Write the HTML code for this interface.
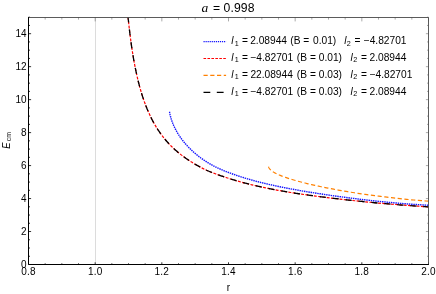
<!DOCTYPE html>
<html><head><meta charset="utf-8"><title>plot</title>
<style>
html,body{margin:0;padding:0;background:#fff;}
body{width:436px;height:294px;overflow:hidden;font-family:"Liberation Sans",sans-serif;}
svg{display:block;}
text{font-family:"Liberation Sans",sans-serif;fill:#000;}
.t{font-size:10px;}
.i{font-style:italic;}
.s{font-size:7px;}
</style></head><body>
<svg width="436" height="294" viewBox="0 0 436 294">
<rect width="436" height="294" fill="#fff"/>
<line x1="95.5" y1="17.2" x2="95.5" y2="264.5" stroke="#dcdcdc" stroke-width="1"/>
<clipPath id="c"><rect x="28.5" y="17.2" width="400.0" height="247.3"/></clipPath>
<g clip-path="url(#c)" fill="none">
<path d="M169.55,111.64 L169.55,111.65 L169.55,111.68 L169.56,111.74 L169.58,111.83 L169.60,111.97 L169.62,112.15 L169.66,112.37 L169.70,112.63 L169.75,112.93 L169.81,113.27 L169.88,113.64 L169.96,114.05 L170.04,114.48 L170.15,114.95 L170.26,115.44 L170.38,115.95 L170.52,116.49 L170.67,117.05 L170.83,117.63 L171.00,118.24 L171.19,118.86 L171.39,119.50 L171.61,120.16 L171.84,120.83 L172.09,121.52 L172.35,122.22 L172.63,122.94 L172.92,123.68 L173.23,124.42 L173.55,125.18 L173.90,125.95 L174.26,126.73 L174.63,127.52 L175.03,128.33 L175.44,129.14 L175.87,129.96 L176.31,130.78 L176.78,131.62 L177.27,132.46 L177.77,133.31 L178.29,134.16 L178.84,135.02 L179.40,135.88 L179.98,136.75 L180.58,137.62 L181.21,138.50 L181.85,139.37 L182.52,140.25 L183.20,141.13 L183.91,142.01 L184.64,142.90 L185.39,143.78 L186.16,144.66 L186.96,145.54 L187.77,146.43 L188.61,147.31 L189.48,148.19 L190.36,149.06 L191.27,149.94 L192.20,150.81 L193.16,151.68 L194.14,152.55 L195.14,153.42 L196.17,154.28 L197.22,155.14 L198.30,156.00 L199.40,156.85 L200.52,157.70 L201.68,158.54 L202.85,159.38 L204.05,160.21 L205.28,161.03 L206.54,161.84 L207.82,162.64 L209.12,163.43 L210.45,164.21 L211.81,164.97 L213.20,165.72 L214.61,166.45 L216.05,167.17 L217.52,167.88 L219.01,168.57 L220.53,169.24 L222.08,169.91 L223.66,170.57 L225.26,171.22 L226.90,171.86 L228.56,172.50 L230.25,173.13 L231.97,173.76 L233.72,174.39 L235.50,175.01 L237.30,175.63 L239.14,176.24 L241.00,176.85 L242.90,177.45 L244.83,178.05 L246.78,178.64 L248.77,179.22 L250.78,179.79 L252.83,180.36 L254.90,180.93 L257.01,181.48 L259.15,182.03 L261.32,182.58 L263.52,183.12 L265.75,183.65 L268.02,184.18 L270.31,184.70 L272.64,185.21 L275.00,185.72 L277.39,186.23 L279.81,186.73 L282.27,187.23 L284.75,187.72 L287.27,188.21 L289.83,188.70 L292.41,189.18 L295.03,189.66 L297.69,190.13 L300.37,190.60 L303.09,191.07 L305.85,191.53 L308.63,192.00 L311.46,192.45 L314.31,192.91 L317.20,193.36 L320.12,193.81 L323.08,194.26 L326.07,194.71 L329.10,195.15 L332.16,195.59 L335.26,196.02 L338.39,196.46 L341.56,196.89 L344.76,197.31 L348.00,197.74 L351.28,198.16 L354.59,198.57 L357.93,198.98 L361.32,199.39 L364.73,199.79 L368.19,200.19 L371.68,200.58 L375.21,200.96 L378.77,201.34 L382.37,201.71 L386.01,202.07 L389.68,202.42 L393.40,202.76 L397.15,203.09 L400.93,203.41 L404.76,203.72 L408.62,204.02 L412.52,204.30 L416.46,204.56 L420.43,204.81 L424.45,205.04 L428.50,205.25" stroke="#1414ff" stroke-width="1.4" stroke-dasharray="1.45 0.8"/>
<path d="M126.50,-0.01 L126.50,-0.01 L126.50,0.02 L126.51,0.09 L126.52,0.20 L126.53,0.35 L126.55,0.56 L126.57,0.83 L126.60,1.17 L126.63,1.57 L126.67,2.04 L126.72,2.58 L126.77,3.20 L126.83,3.90 L126.90,4.67 L126.97,5.53 L127.05,6.47 L127.14,7.48 L127.24,8.58 L127.35,9.76 L127.47,11.01 L127.59,12.35 L127.73,13.76 L127.87,15.24 L128.03,16.79 L128.19,18.42 L128.36,20.11 L128.55,21.86 L128.74,23.68 L128.95,25.55 L129.16,27.48 L129.39,29.45 L129.63,31.47 L129.88,33.54 L130.14,35.64 L130.42,37.78 L130.70,39.94 L131.00,42.14 L131.31,44.36 L131.63,46.60 L131.97,48.86 L132.32,51.13 L132.68,53.41 L133.05,55.70 L133.44,57.99 L133.84,60.29 L134.26,62.58 L134.69,64.87 L135.13,67.15 L135.59,69.42 L136.06,71.68 L136.54,73.93 L137.04,76.17 L137.56,78.39 L138.08,80.59 L138.63,82.77 L139.19,84.93 L139.76,87.07 L140.35,89.19 L140.95,91.28 L141.57,93.35 L142.21,95.39 L142.86,97.40 L143.53,99.39 L144.21,101.36 L144.91,103.29 L145.63,105.20 L146.36,107.08 L147.11,108.93 L147.88,110.76 L148.66,112.55 L149.46,114.32 L150.28,116.06 L151.11,117.77 L151.97,119.46 L152.83,121.11 L153.72,122.74 L154.63,124.34 L155.55,125.92 L156.49,127.46 L157.45,128.98 L158.42,130.48 L159.42,131.95 L160.43,133.39 L161.46,134.81 L162.51,136.20 L163.58,137.57 L164.67,138.91 L165.77,140.23 L166.90,141.53 L168.04,142.80 L169.20,144.05 L170.39,145.28 L171.59,146.48 L172.81,147.67 L174.05,148.83 L175.31,149.98 L176.60,151.10 L177.90,152.20 L179.22,153.29 L180.56,154.35 L181.92,155.40 L183.30,156.43 L184.71,157.45 L186.13,158.45 L187.57,159.43 L189.04,160.40 L190.52,161.37 L192.03,162.32 L193.56,163.26 L195.11,164.19 L196.67,165.11 L198.27,166.01 L199.88,166.90 L201.51,167.78 L203.17,168.62 L204.85,169.45 L206.55,170.24 L208.27,171.00 L210.01,171.74 L211.78,172.45 L213.56,173.14 L215.37,173.81 L217.21,174.48 L219.06,175.14 L220.94,175.79 L222.84,176.44 L224.76,177.09 L226.71,177.73 L228.68,178.37 L230.67,179.00 L232.68,179.62 L234.72,180.24 L236.78,180.84 L238.87,181.44 L240.97,182.03 L243.11,182.61 L245.26,183.18 L247.44,183.74 L249.64,184.29 L251.87,184.83 L254.12,185.37 L256.40,185.90 L258.69,186.41 L261.02,186.93 L263.37,187.43 L265.74,187.93 L268.13,188.41 L270.56,188.90 L273.00,189.37 L275.47,189.84 L277.97,190.30 L280.49,190.75 L283.03,191.20 L285.60,191.64 L288.20,192.08 L290.82,192.50 L293.46,192.93 L296.14,193.34 L298.83,193.76 L301.55,194.16 L304.30,194.56 L307.08,194.96 L309.88,195.35 L312.70,195.73 L315.55,196.11 L318.43,196.49 L321.33,196.86 L324.26,197.23 L327.22,197.60 L330.20,197.96 L333.21,198.32 L336.25,198.68 L339.31,199.03 L342.40,199.38 L345.51,199.73 L348.65,200.08 L351.82,200.42 L355.02,200.76 L358.24,201.10 L361.49,201.44 L364.77,201.77 L368.08,202.10 L371.41,202.42 L374.77,202.74 L378.15,203.05 L381.57,203.35 L385.01,203.65 L388.48,203.94 L391.98,204.23 L395.50,204.51 L399.06,204.79 L402.64,205.06 L406.25,205.33 L409.89,205.59 L413.55,205.85 L417.25,206.11 L420.97,206.36 L424.72,206.61 L428.50,206.86" stroke="#f00" stroke-width="1.2" stroke-dasharray="2.9 1.4"/>
<path d="M268.50,166.65 L268.50,166.65 L268.50,166.66 L268.51,166.68 L268.52,166.71 L268.53,166.75 L268.54,166.80 L268.57,166.86 L268.59,166.94 L268.62,167.02 L268.66,167.12 L268.70,167.23 L268.75,167.34 L268.81,167.46 L268.87,167.59 L268.94,167.73 L269.01,167.87 L269.10,168.01 L269.19,168.17 L269.29,168.32 L269.40,168.48 L269.51,168.64 L269.64,168.80 L269.77,168.97 L269.92,169.14 L270.07,169.31 L270.23,169.49 L270.40,169.66 L270.58,169.84 L270.77,170.02 L270.97,170.20 L271.19,170.39 L271.41,170.57 L271.64,170.76 L271.88,170.95 L272.14,171.14 L272.40,171.33 L272.68,171.52 L272.97,171.72 L273.27,171.91 L273.58,172.11 L273.90,172.31 L274.24,172.51 L274.59,172.71 L274.95,172.91 L275.32,173.11 L275.70,173.32 L276.10,173.52 L276.51,173.73 L276.94,173.93 L277.37,174.14 L277.82,174.35 L278.29,174.57 L278.76,174.78 L279.26,174.99 L279.76,175.21 L280.28,175.42 L280.81,175.64 L281.36,175.86 L281.92,176.08 L282.50,176.30 L283.09,176.52 L283.69,176.75 L284.31,176.97 L284.95,177.20 L285.60,177.43 L286.26,177.66 L286.94,177.89 L287.64,178.12 L288.35,178.35 L289.08,178.59 L289.82,178.82 L290.58,179.06 L291.35,179.30 L292.14,179.54 L292.95,179.78 L293.77,180.02 L294.61,180.26 L295.47,180.51 L296.34,180.75 L297.23,181.00 L298.14,181.25 L299.06,181.50 L300.00,181.75 L300.96,182.00 L301.93,182.26 L302.92,182.51 L303.93,182.77 L304.96,183.03 L306.01,183.29 L307.07,183.55 L308.15,183.81 L309.25,184.07 L310.36,184.33 L311.50,184.60 L312.65,184.86 L313.82,185.13 L315.01,185.39 L316.22,185.66 L317.45,185.93 L318.69,186.20 L319.96,186.47 L321.24,186.74 L322.54,187.02 L323.86,187.29 L325.20,187.56 L326.56,187.84 L327.94,188.11 L329.34,188.38 L330.76,188.66 L332.20,188.94 L333.65,189.21 L335.13,189.49 L336.63,189.76 L338.14,190.04 L339.68,190.31 L341.24,190.59 L342.82,190.87 L344.42,191.14 L346.03,191.42 L347.67,191.69 L349.33,191.96 L351.01,192.24 L352.72,192.51 L354.44,192.78 L356.18,193.05 L357.94,193.32 L359.73,193.59 L361.54,193.85 L363.36,194.12 L365.21,194.38 L367.08,194.64 L368.98,194.90 L370.89,195.16 L372.83,195.41 L374.78,195.67 L376.76,195.92 L378.76,196.16 L380.79,196.41 L382.83,196.65 L384.90,196.89 L386.99,197.12 L389.10,197.36 L391.23,197.60 L393.39,197.86 L395.57,198.12 L397.77,198.37 L400.00,198.62 L402.25,198.86 L404.52,199.10 L406.81,199.33 L409.13,199.56 L411.47,199.78 L413.83,200.00 L416.22,200.22 L418.63,200.42 L421.06,200.63 L423.52,200.82 L426.00,201.01 L428.50,201.19" stroke="#ff8000" stroke-width="1.2" stroke-dasharray="4.2 2.55"/>
<path d="M126.50,-0.01 L126.50,-0.01 L126.50,0.02 L126.51,0.09 L126.52,0.20 L126.53,0.35 L126.55,0.56 L126.57,0.83 L126.60,1.17 L126.63,1.57 L126.67,2.04 L126.72,2.58 L126.77,3.20 L126.83,3.90 L126.90,4.67 L126.97,5.53 L127.05,6.47 L127.14,7.48 L127.24,8.58 L127.35,9.76 L127.47,11.01 L127.59,12.35 L127.73,13.76 L127.87,15.24 L128.03,16.79 L128.19,18.42 L128.36,20.11 L128.55,21.86 L128.74,23.68 L128.95,25.55 L129.16,27.48 L129.39,29.45 L129.63,31.47 L129.88,33.54 L130.14,35.64 L130.42,37.78 L130.70,39.94 L131.00,42.14 L131.31,44.36 L131.63,46.60 L131.97,48.86 L132.32,51.13 L132.68,53.41 L133.05,55.70 L133.44,57.99 L133.84,60.29 L134.26,62.58 L134.69,64.87 L135.13,67.15 L135.59,69.42 L136.06,71.68 L136.54,73.93 L137.04,76.17 L137.56,78.39 L138.08,80.59 L138.63,82.77 L139.19,84.93 L139.76,87.07 L140.35,89.19 L140.95,91.28 L141.57,93.35 L142.21,95.39 L142.86,97.40 L143.53,99.39 L144.21,101.36 L144.91,103.29 L145.63,105.20 L146.36,107.08 L147.11,108.93 L147.88,110.76 L148.66,112.55 L149.46,114.32 L150.28,116.06 L151.11,117.77 L151.97,119.46 L152.83,121.11 L153.72,122.74 L154.63,124.34 L155.55,125.92 L156.49,127.46 L157.45,128.98 L158.42,130.48 L159.42,131.95 L160.43,133.39 L161.46,134.81 L162.51,136.20 L163.58,137.57 L164.67,138.91 L165.77,140.23 L166.90,141.53 L168.04,142.80 L169.20,144.05 L170.39,145.28 L171.59,146.48 L172.81,147.67 L174.05,148.83 L175.31,149.98 L176.60,151.10 L177.90,152.20 L179.22,153.29 L180.56,154.35 L181.92,155.40 L183.30,156.43 L184.71,157.45 L186.13,158.45 L187.57,159.43 L189.04,160.40 L190.52,161.37 L192.03,162.32 L193.56,163.26 L195.11,164.19 L196.67,165.11 L198.27,166.01 L199.88,166.90 L201.51,167.78 L203.17,168.62 L204.85,169.45 L206.55,170.24 L208.27,171.00 L210.01,171.74 L211.78,172.45 L213.56,173.14 L215.37,173.81 L217.21,174.48 L219.06,175.14 L220.94,175.79 L222.84,176.44 L224.76,177.09 L226.71,177.73 L228.68,178.37 L230.67,179.00 L232.68,179.62 L234.72,180.24 L236.78,180.84 L238.87,181.44 L240.97,182.03 L243.11,182.61 L245.26,183.18 L247.44,183.74 L249.64,184.29 L251.87,184.83 L254.12,185.37 L256.40,185.90 L258.69,186.41 L261.02,186.93 L263.37,187.43 L265.74,187.93 L268.13,188.41 L270.56,188.90 L273.00,189.37 L275.47,189.84 L277.97,190.30 L280.49,190.75 L283.03,191.20 L285.60,191.64 L288.20,192.08 L290.82,192.50 L293.46,192.93 L296.14,193.34 L298.83,193.76 L301.55,194.16 L304.30,194.56 L307.08,194.96 L309.88,195.35 L312.70,195.73 L315.55,196.11 L318.43,196.49 L321.33,196.86 L324.26,197.23 L327.22,197.60 L330.20,197.96 L333.21,198.32 L336.25,198.68 L339.31,199.03 L342.40,199.38 L345.51,199.73 L348.65,200.08 L351.82,200.42 L355.02,200.76 L358.24,201.10 L361.49,201.44 L364.77,201.77 L368.08,202.10 L371.41,202.42 L374.77,202.74 L378.15,203.05 L381.57,203.35 L385.01,203.65 L388.48,203.94 L391.98,204.23 L395.50,204.51 L399.06,204.79 L402.64,205.06 L406.25,205.33 L409.89,205.59 L413.55,205.85 L417.25,206.11 L420.97,206.36 L424.72,206.61 L428.50,206.86" stroke="#000" stroke-width="1.3" stroke-dasharray="6.2 6.8" stroke-dashoffset="9.54"/>
</g>
<path d="M28.50,264.5v-2.2M45.17,264.5v-1.2M61.83,264.5v-1.2M78.50,264.5v-1.2M95.17,264.5v-2.2M111.83,264.5v-1.2M128.50,264.5v-1.2M145.17,264.5v-1.2M161.83,264.5v-2.2M178.50,264.5v-1.2M195.17,264.5v-1.2M211.83,264.5v-1.2M228.50,264.5v-2.2M245.17,264.5v-1.2M261.83,264.5v-1.2M278.50,264.5v-1.2M295.17,264.5v-2.2M311.83,264.5v-1.2M328.50,264.5v-1.2M345.17,264.5v-1.2M361.83,264.5v-2.2M378.50,264.5v-1.2M395.17,264.5v-1.2M411.83,264.5v-1.2M428.50,264.5v-2.2M28.5,264.50h2.6M28.5,256.26h1.5M28.5,248.01h1.5M28.5,239.77h1.5M28.5,231.53h2.6M28.5,223.28h1.5M28.5,215.04h1.5M28.5,206.80h1.5M28.5,198.55h2.6M28.5,190.31h1.5M28.5,182.07h1.5M28.5,173.82h1.5M28.5,165.58h2.6M28.5,157.34h1.5M28.5,149.09h1.5M28.5,140.85h1.5M28.5,132.61h2.6M28.5,124.36h1.5M28.5,116.12h1.5M28.5,107.88h1.5M28.5,99.63h2.6M28.5,91.39h1.5M28.5,83.15h1.5M28.5,74.90h1.5M28.5,66.66h2.6M28.5,58.42h1.5M28.5,50.17h1.5M28.5,41.93h1.5M28.5,33.69h2.6M28.5,25.44h1.5M28.5,17.20h1.5" stroke="#000" stroke-width="0.8" fill="none"/>
<path d="M28.50,17.2v4.2M45.17,17.2v2.4M61.83,17.2v2.4M78.50,17.2v2.4M95.17,17.2v4.2M111.83,17.2v2.4M128.50,17.2v2.4M145.17,17.2v2.4M161.83,17.2v4.2M178.50,17.2v2.4M195.17,17.2v2.4M211.83,17.2v2.4M228.50,17.2v4.2M245.17,17.2v2.4M261.83,17.2v2.4M278.50,17.2v2.4M295.17,17.2v4.2M311.83,17.2v2.4M328.50,17.2v2.4M345.17,17.2v2.4M361.83,17.2v4.2M378.50,17.2v2.4M395.17,17.2v2.4M411.83,17.2v2.4M428.50,17.2v4.2M428.5,264.50h-2.6M428.5,256.26h-1.5M428.5,248.01h-1.5M428.5,239.77h-1.5M428.5,231.53h-2.6M428.5,223.28h-1.5M428.5,215.04h-1.5M428.5,206.80h-1.5M428.5,198.55h-2.6M428.5,190.31h-1.5M428.5,182.07h-1.5M428.5,173.82h-1.5M428.5,165.58h-2.6M428.5,157.34h-1.5M428.5,149.09h-1.5M428.5,140.85h-1.5M428.5,132.61h-2.6M428.5,124.36h-1.5M428.5,116.12h-1.5M428.5,107.88h-1.5M428.5,99.63h-2.6M428.5,91.39h-1.5M428.5,83.15h-1.5M428.5,74.90h-1.5M428.5,66.66h-2.6M428.5,58.42h-1.5M428.5,50.17h-1.5M428.5,41.93h-1.5M428.5,33.69h-2.6M428.5,25.44h-1.5M428.5,17.20h-1.5" stroke="#444" stroke-width="0.45" fill="none"/>
<path d="M28.5,17.5H428.5V264.5" fill="none" stroke="#484848" stroke-width="0.9"/>
<path d="M28.5,17.1V264.5H428.9" fill="none" stroke="#000" stroke-width="1"/>
<line x1="203.5" y1="41.5" x2="226.1" y2="41.5" stroke="#1414ff" stroke-width="1.25" stroke-dasharray="1.2 0.85"/>
<line x1="203.5" y1="58.5" x2="226.1" y2="58.5" stroke="#f00" stroke-width="1.15" stroke-dasharray="2.6 1.35"/>
<line x1="203.5" y1="75.4" x2="226.1" y2="75.4" stroke="#ff8000" stroke-width="1.2" stroke-dasharray="4.2 2.55"/>
<line x1="203.5" y1="92.45" x2="226.1" y2="92.45" stroke="#000" stroke-width="1.3" stroke-dasharray="6.8 6.5"/>
<g style="filter:grayscale(1)">
<text class="t" x="28.50" y="275" text-anchor="middle" style="letter-spacing:0.2px">0.8</text>
<text class="t" x="95.17" y="275" text-anchor="middle" style="letter-spacing:0.2px">1.0</text>
<text class="t" x="161.83" y="275" text-anchor="middle" style="letter-spacing:0.2px">1.2</text>
<text class="t" x="228.50" y="275" text-anchor="middle" style="letter-spacing:0.2px">1.4</text>
<text class="t" x="295.17" y="275" text-anchor="middle" style="letter-spacing:0.2px">1.6</text>
<text class="t" x="361.83" y="275" text-anchor="middle" style="letter-spacing:0.2px">1.8</text>
<text class="t" x="428.50" y="275" text-anchor="middle" style="letter-spacing:0.2px">2.0</text>
<text class="t" x="26.5" y="268.00" text-anchor="end">0</text>
<text class="t" x="26.5" y="235.03" text-anchor="end">2</text>
<text class="t" x="26.5" y="202.05" text-anchor="end">4</text>
<text class="t" x="26.5" y="169.08" text-anchor="end">6</text>
<text class="t" x="26.5" y="136.11" text-anchor="end">8</text>
<text class="t" x="26.5" y="103.13" text-anchor="end">10</text>
<text class="t" x="26.5" y="70.16" text-anchor="end">12</text>
<text class="t" x="26.5" y="37.19" text-anchor="end">14</text>
<text class="t" x="228.4" y="290.6" text-anchor="middle" style="font-size:10px">r</text>
<text transform="translate(9.6,148.7) rotate(-90) scale(0.9,1)" style="font-size:10.4px;font-style:italic">E</text>
<text transform="translate(11.2,141.3) rotate(-90)" style="font-size:7px">cm</text>
<text x="201.6" y="11.6" style="font-family:'Liberation Serif',serif;font-style:italic;font-size:13.5px">a</text>
<text x="212.9" y="11.6" style="font-size:12.2px">=</text>
<text x="223.6" y="11.6" style="font-size:12.2px;letter-spacing:0.1px">0.998</text>
<text x="231.24" y="44.30" style="font-size:10.2px;font-style:italic;">l</text>
<text x="234.65" y="45.60" style="font-size:7.2px;">1</text>
<text x="241.90" y="44.30" style="font-size:10.2px;">=</text>
<text x="250.19" y="44.30" style="font-size:10.2px;">2.08944</text>
<text x="290.27" y="44.30" style="font-size:10.2px;">(B</text>
<text x="303.20" y="44.30" style="font-size:10.2px;">=</text>
<text x="313.00" y="44.30" style="font-size:10.2px;">0.01)</text>
<text x="344.24" y="44.30" style="font-size:10.2px;font-style:italic;">l</text>
<text x="346.84" y="45.60" style="font-size:7.2px;">2</text>
<text x="354.60" y="44.30" style="font-size:10.2px;">=</text>
<text x="363.70" y="44.30" style="font-size:10.2px;">−</text>
<text x="369.67" y="44.30" style="font-size:10.2px;">4.82701</text>
<text x="231.24" y="61.17" style="font-size:10.2px;font-style:italic;">l</text>
<text x="234.65" y="62.47" style="font-size:7.2px;">1</text>
<text x="241.90" y="61.17" style="font-size:10.2px;">=</text>
<text x="250.60" y="61.17" style="font-size:10.2px;">−</text>
<text x="256.37" y="61.17" style="font-size:10.2px;">4.82701</text>
<text x="296.87" y="61.17" style="font-size:10.2px;">(B</text>
<text x="310.00" y="61.17" style="font-size:10.2px;">=</text>
<text x="318.80" y="61.17" style="font-size:10.2px;">0.01)</text>
<text x="350.54" y="61.17" style="font-size:10.2px;font-style:italic;">l</text>
<text x="353.14" y="62.47" style="font-size:7.2px;">2</text>
<text x="360.90" y="61.17" style="font-size:10.2px;">=</text>
<text x="369.49" y="61.17" style="font-size:10.2px;">2.08944</text>
<text x="231.24" y="78.04" style="font-size:10.2px;font-style:italic;">l</text>
<text x="234.65" y="79.34" style="font-size:7.2px;">1</text>
<text x="241.90" y="78.04" style="font-size:10.2px;">=</text>
<text x="250.39" y="78.04" style="font-size:10.2px;">22.08944</text>
<text x="296.87" y="78.04" style="font-size:10.2px;">(B</text>
<text x="310.00" y="78.04" style="font-size:10.2px;">=</text>
<text x="318.80" y="78.04" style="font-size:10.2px;">0.03)</text>
<text x="350.54" y="78.04" style="font-size:10.2px;font-style:italic;">l</text>
<text x="353.14" y="79.34" style="font-size:7.2px;">2</text>
<text x="360.90" y="78.04" style="font-size:10.2px;">=</text>
<text x="369.70" y="78.04" style="font-size:10.2px;">−</text>
<text x="375.47" y="78.04" style="font-size:10.2px;">4.82701</text>
<text x="231.24" y="94.91" style="font-size:10.2px;font-style:italic;">l</text>
<text x="234.65" y="96.21" style="font-size:7.2px;">1</text>
<text x="241.90" y="94.91" style="font-size:10.2px;">=</text>
<text x="250.60" y="94.91" style="font-size:10.2px;">−</text>
<text x="256.37" y="94.91" style="font-size:10.2px;">4.82701</text>
<text x="296.87" y="94.91" style="font-size:10.2px;">(B</text>
<text x="310.00" y="94.91" style="font-size:10.2px;">=</text>
<text x="318.80" y="94.91" style="font-size:10.2px;">0.03)</text>
<text x="350.54" y="94.91" style="font-size:10.2px;font-style:italic;">l</text>
<text x="353.14" y="96.21" style="font-size:7.2px;">2</text>
<text x="360.90" y="94.91" style="font-size:10.2px;">=</text>
<text x="369.49" y="94.91" style="font-size:10.2px;">2.08944</text>
</g>
</svg></body></html>
